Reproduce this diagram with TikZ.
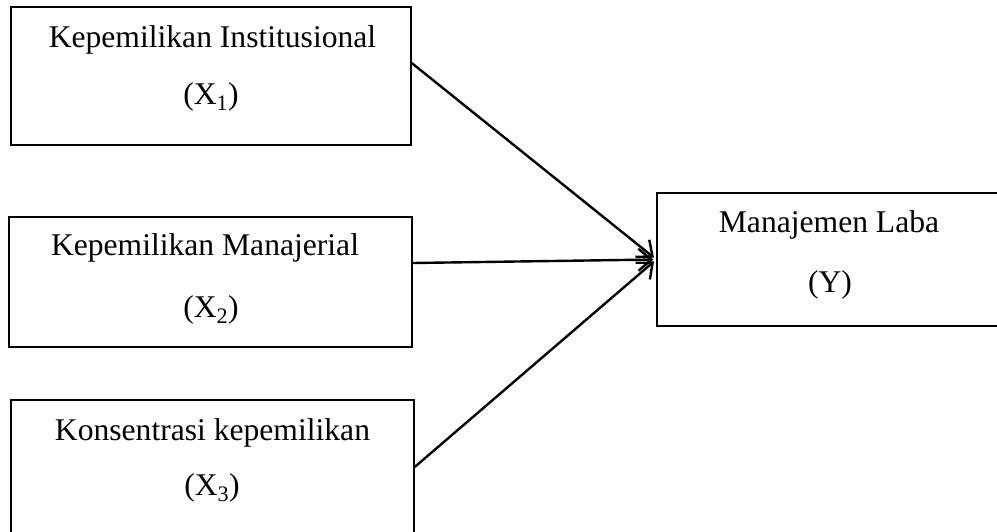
\documentclass[tikz,border=0pt]{standalone}
\usepackage{fontspec}
\setmainfont{Liberation Serif}
\usetikzlibrary{arrows.meta}
\begin{document}
\begin{tikzpicture}[x=1pt,y=-1pt,
  box/.style={draw, line width=1.4pt, inner sep=0pt},
  lbl/.style={anchor=base, inner sep=0pt, font=\fontsize{31.6}{37}\selectfont},
  link/.style={line width=2.4pt, -{Straight Barb[length=13pt,width=22pt,line width=2.4pt]}, shorten >=3pt}]
\useasboundingbox (0,0) rectangle (997,531);
\clip (0,0) rectangle (997,531);
% boxes
\node[box, minimum width=400pt, minimum height=138pt] (b1) at (211,76) {};
\node[box, minimum width=403pt, minimum height=130pt] (b2) at (210.5,282) {};
\node[box, minimum width=403pt, minimum height=145pt] (b3) at (212.5,472.5) {};
\node[box, minimum width=353pt, minimum height=133pt] (by) at (833.5,259.5) {};
% texts
\node[lbl] (t1a) at (212.5,47) {Kepemilikan Institusional};
\node[lbl] (t1b) at (211,104) {(X\textsubscript{1})};
\node[lbl] (t2a) at (205,255) {Kepemilikan Manajerial};
\node[lbl] (t2b) at (211,317) {(X\textsubscript{2})};
\node[lbl] (t3a) at (212.5,440) {Konsentrasi kepemilikan};
\node[lbl] (t3b) at (212,495) {(X\textsubscript{3})};
\node[lbl] (tya) at (829,232) {Manajemen Laba};
\node[lbl] (tyb) at (830,292) {(Y)};
% connectors
\draw[link] ([yshift=13pt]b1.east) -- (by.west);
\draw[link] ([yshift=19pt]b2.east) -- (by.west);
\draw[link] ([yshift=5.5pt]b3.east) -- (by.west);
\end{tikzpicture}
\end{document}
